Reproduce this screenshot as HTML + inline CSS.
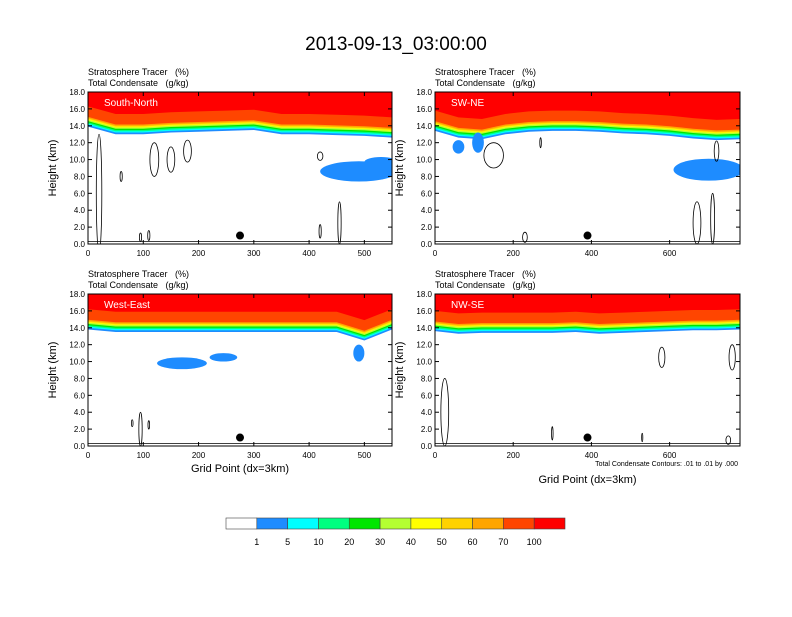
<!DOCTYPE html>
<html><head><meta charset="utf-8"><style>
body{margin:0;background:#fff;font-family:"Liberation Sans",sans-serif}
svg text{font-family:"Liberation Sans",sans-serif;white-space:pre}
</style></head><body>
<svg id="s" width="792" height="612" xmlns="http://www.w3.org/2000/svg">
<rect width="792" height="612" fill="#fff"/>
<text x="396" y="50" font-size="19" text-anchor="middle">2013-09-13_03:00:00</text>
</svg>
<script>
const colors=["#ffffff","#1e8cff","#00ffff","#00ff80","#00e600","#b4ff32","#ffff00","#ffd200","#ffa500","#ff4500","#ff0000"];
const cbLabels=["1","5","10","20","30","40","50","60","70","100"];
const yTicks=[0,2,4,6,8,10,12,14,16,18];
const names=["South-North","SW-NE","West-East","NW-SE"];
const xMaxes=[550,780,550,780];
const xTickSets=[[0,100,200,300,400,500],[0,200,400,600],[0,100,200,300,400,500],[0,200,400,600]];
const baseTL=[13.9,13.0,13.0,13.2,13.3,13.4,13.5,13.0,13.0,12.9,12.8,12.6];
const baseTR=[13.4,12.6,12.4,13.0,13.3,13.4,13.4,13.3,13.1,13.0,12.8,12.5,12.3,12.4];
const baseBL=[13.8,13.5,13.5,13.5,13.5,13.5,13.5,13.5,13.5,13.5,12.5,13.8];
const baseBR=[13.6,13.3,13.4,13.4,13.4,13.4,13.5,13.3,13.4,13.5,13.6,13.7,13.7,13.8];
const bases=[baseTL,baseTR,baseBL,baseBR];
const bandOffsets=[0,0.2,0.35,0.5,0.65,0.8,0.9,1.0,1.15,2.4];
// blue blobs: [xCenter, yCenter(km), xHalf(grid), yHalf(km)]
const blobs=[[[490,8.6,70,1.2],[530,9.7,30,0.6]],[[700,8.8,90,1.3],[60,11.5,15,0.8],[110,12,15,1.2]],[[170,9.8,45,0.7],[245,10.5,25,0.5],[490,11.0,10,1.0]],[]];
// contour ellipses: [xCenter, yCenter, xHalf, yHalf]
const contours=[[[20,6,5,7],[120,10,8,2],[150,10,7,1.5],[180,11,7,1.3],[60,8,2,0.6],[455,2.5,3,2.5],[420,1.5,2,0.8],[95,0.8,2,0.5],[110,1,2,0.6],[420,10.4,5,0.5]],
[[150,10.5,25,1.5],[230,0.8,6,0.6],[670,2.5,10,2.5],[710,3,5,3],[720,11,6,1.2],[270,12,2,0.6]],
[[95,2,3,2],[80,2.7,1.5,0.4],[110,2.5,1.5,0.5]],
[[25,4,10,4],[300,1.5,2,0.8],[580,10.5,8,1.2],[750,0.7,6,0.5],[760,10.5,8,1.5],[530,1,1.5,0.5]]];
const dotX=[275,390,275,390];
const panels=[[88,92],[435,92],[88,294],[435,294]];
const W=[304,305,304,305],H=152;
const svg=document.getElementById('s');
const NS="http://www.w3.org/2000/svg";
function mk(t,a,p){const e=document.createElementNS(NS,t);for(const k in a)e.setAttribute(k,a[k]);(p||svg).appendChild(e);return e;}
panels.forEach((p,i)=>{
 const [x0,y0]=p,w=W[i],xm=xMaxes[i];
 const sx=v=>x0+v/xm*w, sy=v=>y0+H-v/18*H;
 const g=mk('g',{});
 
 
 const cp=mk('clipPath',{id:'c'+i},g);mk('rect',{x:x0,y:y0,width:w,height:H},cp);
 const pg=mk('g',{'clip-path':'url(#c'+i+')'},g);
 const b=bases[i],n=b.length;
 for(let k=0;k<bandOffsets.length;k++){
  let pts=[];
  for(let j=0;j<n;j++)pts.push(sx(j*xm/(n-1))+','+sy(b[j]+bandOffsets[k]));
  pts.push(sx(xm)+','+y0,sx(0)+','+y0);
  const poly=mk('polygon',{points:pts.join(' '),fill:colors[k+1]},pg);
  
  
 }
 blobs[i].forEach(bl=>{
  const e=mk('ellipse',{cx:sx(bl[0]),cy:sy(bl[1]),rx:bl[2]/xm*w,ry:bl[3]/18*H,fill:colors[1]},pg);
  
  
 });
 contours[i].forEach(c=>{
  const e=mk('ellipse',{cx:sx(c[0]),cy:sy(c[1]),rx:c[2]/xm*w,ry:c[3]/18*H,fill:'none',stroke:'#000','stroke-width':0.8},pg);
  
  
 });
 mk('line',{x1:x0,y1:sy(0.3),x2:x0+w,y2:sy(0.3),stroke:'#000','stroke-width':0.8},pg);
 const d=mk('circle',{cx:sx(dotX[i]),cy:sy(1.0),r:4,fill:'#000'},g);
 
 
 mk('rect',{x:x0,y:y0,width:w,height:H,fill:'none',stroke:'#000','stroke-width':1},g);
 yTicks.forEach(t=>{
  mk('line',{x1:x0,y1:sy(t),x2:x0+4,y2:sy(t),stroke:'#000'},g);
  mk('line',{x1:x0+w,y1:sy(t),x2:x0+w-4,y2:sy(t),stroke:'#000'},g);
  const tx=mk('text',{x:x0-3,y:sy(t)+3,'font-size':8,'text-anchor':'end'},g);tx.textContent=t.toFixed(1);
  
  
 });
 xTickSets[i].forEach(t=>{
  mk('line',{x1:sx(t),y1:y0+H,x2:sx(t),y2:y0+H-4,stroke:'#000'},g);
  mk('line',{x1:sx(t),y1:y0,x2:sx(t),y2:y0+4,stroke:'#000'},g);
  const tx=mk('text',{x:sx(t),y:y0+H+12,'font-size':8,'text-anchor':'middle'},g);tx.textContent=t;
  
  
 });
 const yl=mk('text',{x:x0-32,y:y0+H/2,'font-size':11,'text-anchor':'middle',transform:`rotate(-90 ${x0-32} ${y0+H/2})`},g);yl.textContent='Height (km)';
 
 
 const t1=mk('text',{x:x0,y:y0-17,'font-size':9},g);t1.textContent='Stratosphere Tracer   (%)';
 
 
 const t2=mk('text',{x:x0,y:y0-6,'font-size':9},g);t2.textContent='Total Condensate   (g/kg)';
 
 
 const nm=mk('text',{x:x0+16,y:y0+14,'font-size':10,fill:'#fff'},g);nm.textContent=names[i];
 
 
 if(i>=2){
  const xl=mk('text',{x:x0+w/2,y:y0+H+26,'font-size':11,'text-anchor':'middle'},g);xl.textContent='Grid Point (dx=3km)';
  if(i===3)xl.setAttribute('y',y0+H+37);
  
  
 }
 if(i===3){
  const cn=mk('text',{x:x0+w-2,y:y0+H+20,'font-size':7,'text-anchor':'end'},g);cn.textContent='Total Condensate Contours: .01 to .01 by .000';
  
  
 }
});
const cb=mk('g',{});


const cbx=226,cbw=339,cby=518,cbh=11,bw=cbw/colors.length;
colors.forEach((c,k)=>{
 const r=mk('rect',{x:cbx+k*bw,y:cby,width:bw,height:cbh,fill:c,stroke:'#444','stroke-width':0.6},cb);
 
 
});
cbLabels.forEach((l,k)=>{
 const t=mk('text',{x:cbx+(k+1)*bw,y:cby+27,'font-size':9,'text-anchor':'middle'},cb);t.textContent=l;
 
 
});
</script>
</body></html>
